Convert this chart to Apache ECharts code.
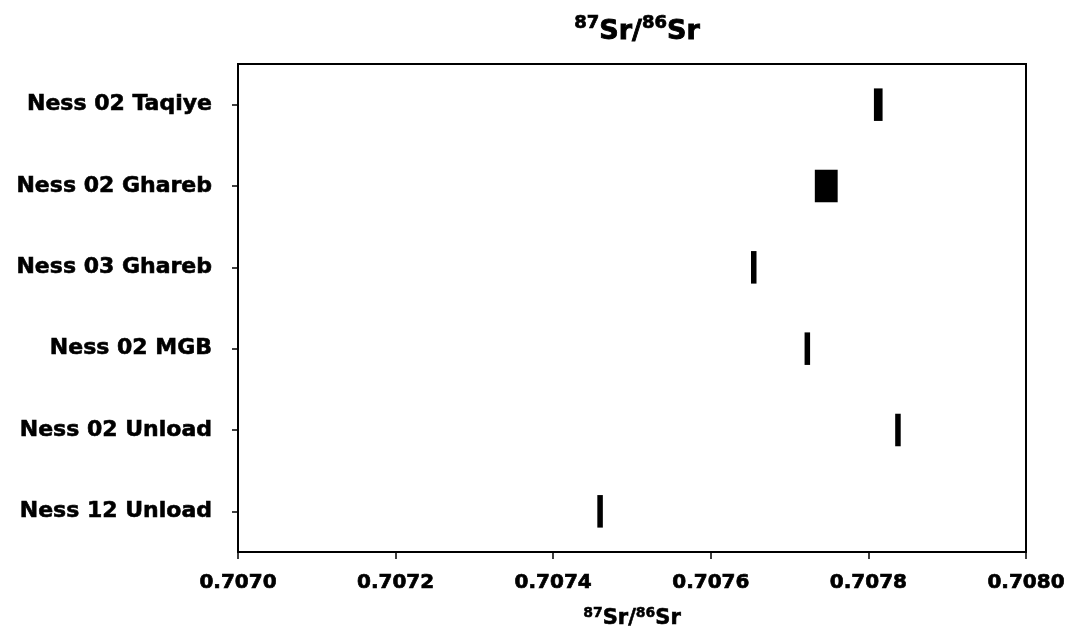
<!DOCTYPE html>
<html>
<head>
<meta charset="utf-8">
<script src="https://cdn.jsdelivr.net/npm/echarts@6/dist/echarts.min.js"></script>
<style>html,body{margin:0;padding:0;background:#fff}#c{width:1068px;height:632px}</style>
</head>
<body>
<div id="c"></div>
<script>
var categories = ['Ness 02 Taqiye', 'Ness 02 Ghareb', 'Ness 03 Ghareb', 'Ness 02 MGB', 'Ness 02 Unload', 'Ness 12 Unload'];
var lowValues  = [0.707807, 0.707732, 0.707651, 0.707719, 0.707834, 0.707456];
var highValues = [0.707818, 0.707761, 0.707658, 0.707726, 0.707841, 0.707463];
var xTicks = { min: 0.7070, max: 0.7080, interval: 0.0002 };

var spans = highValues.map(function (h, i) { return +(h - lowValues[i]).toFixed(7); });
var FONT = 'DejaVu Sans';
function heavy(size, extra) {
  var o = { fontFamily: FONT, fontWeight: 'bold', fontSize: size, color: '#000', textBorderColor: '#000', textBorderWidth: 0.5 };
  for (var k in extra) o[k] = extra[k];
  return o;
}

var chart = echarts.init(document.getElementById('c'), null, { renderer: 'canvas' });
chart.setOption({
  backgroundColor: '#fff',
  animation: false,
  title: {
    text: '{sup|87}{b|Sr/}{sup|86}{b|Sr}',
    left: 632, top: 9, textAlign: 'center',
    textStyle: {
      rich: {
        sup: heavy(18, { verticalAlign: 'top', lineHeight: 31, textBorderWidth: 0.7 }),
        b: heavy(27, { verticalAlign: 'bottom', lineHeight: 31, textBorderWidth: 0.9 })
      }
    }
  },
  grid: { left: 238, right: 42, top: 64, bottom: 80, outerBoundsMode: 'none', containLabel: false,
    show: true, borderColor: '#000', borderWidth: 2, backgroundColor: 'transparent' },
  xAxis: {
    type: 'value', min: xTicks.min, max: xTicks.max, interval: xTicks.interval,
    axisLine: { show: true, lineStyle: { color: '#000', width: 2 } },
    axisTick: { show: true, inside: false, length: 7, lineStyle: { color: '#000', width: 1.5 } },
    splitLine: { show: false },
    axisLabel: heavy(20, { margin: 21, textBorderWidth: 0.7, formatter: function (v) { return v.toFixed(4); } }),
    name: '{sup|87}{b|Sr/}{sup|86}{b|Sr}',
    nameLocation: 'middle', nameGap: 54,
    nameTextStyle: {
      rich: {
        sup: heavy(14, { verticalAlign: 'top', lineHeight: 23 }),
        b: heavy(21, { verticalAlign: 'bottom', lineHeight: 23, textBorderWidth: 0.6 })
      }
    }
  },
  yAxis: {
    type: 'category', data: categories, inverse: true,
    axisLine: { show: true, lineStyle: { color: '#000', width: 2 } },
    axisTick: { show: true, alignWithLabel: true, length: 6, lineStyle: { color: '#000', width: 1.5 } },
    axisLabel: heavy(22, { margin: 26, textBorderWidth: 0.6 }),
    splitLine: { show: false }
  },
  series: [
    { type: 'bar', stack: 'r', data: lowValues, barWidth: '40%', itemStyle: { color: 'transparent' }, silent: true },
    { type: 'bar', stack: 'r', data: spans, barWidth: '40%', itemStyle: { color: '#000' } }
  ]
});
</script>
</body>
</html>
